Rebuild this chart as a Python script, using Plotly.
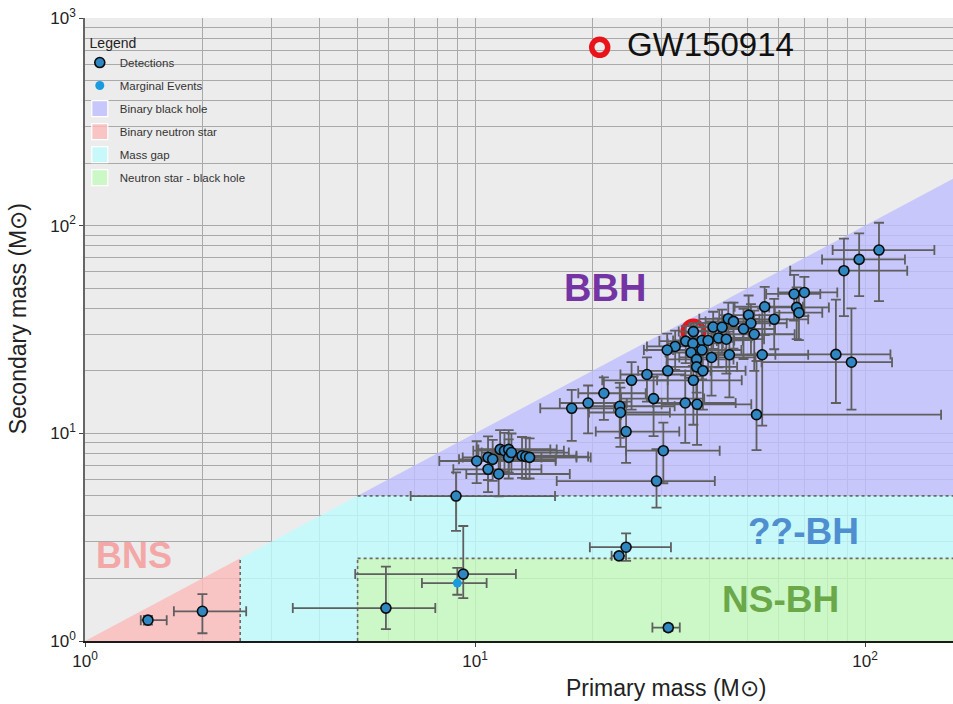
import plotly.graph_objects as go

# ---------------- data (solar masses) ----------------
primary_mass = [108.6, 96.6, 88.3, 65.8, 69.9, 66.8, 67.7, 58.5, 55.3, 84.2, 92.3, 54.5, 52.7,
                50.3, 51.0, 52.0, 44.6, 46.0, 48.8, 40.8, 43.0, 42.1, 44.1, 36.3, 34.7, 38.2,
                39.6, 36.2, 38.2, 35.8, 37.0, 37.0, 38.4, 40.4, 44.9, 32.6, 31.1, 31.2, 27.6,
                25.2, 36.3, 21.4, 19.5, 17.7, 23.5, 23.6, 28.7, 34.6, 37.1, 24.4, 30.4, 29.2,
                8.94, 10.1, 10.8, 11.1, 10.8, 11.5, 11.6, 11.9, 12.2, 12.2, 12.4, 13.2, 13.5, 13.8,
                9.33, 5.91, 2.0, 1.45, 24.4, 23.4, 31.3]
secondary_mass = [76.3, 68.8, 60.7, 46.9, 47.7, 40.4, 38.1, 35.4, 40.7, 24.0, 22.0, 23.9, 12.3,
                  37.1, 33.9, 30.0, 35.6, 34.6, 31.8, 32.5, 32.4, 28.8, 28.4, 30.9, 27.8, 28.0,
                  28.0, 27.1, 25.2, 24.5, 22.7, 20.9, 20.0, 23.2, 23.9, 26.2, 25.2, 20.0, 19.2,
                  18.0, 18.0, 15.6, 14.0, 13.2, 13.5, 12.6, 14.7, 14.0, 13.8, 10.2, 8.25, 5.89,
                  4.99, 7.36, 7.66, 7.5, 6.71, 6.37, 8.37, 8.25, 8.37, 7.66, 8.08, 7.80, 7.73, 7.66,
                  2.10, 1.44, 1.39, 1.26, 2.83, 2.57, 1.16]
m1_err_plus = [42, 30, 40, 11, 15, 14, 10, 13, 14, 32, 25, 17, 104,
               10, 12, 14, 9, 11, 10, 8, 9, 9, 11, 5, 7, 8,
               9, 7, 10, 8, 9, 10, 11, 12, 14, 6, 6, 9, 7,
               6, 12, 6, 5, 5, 9, 8, 10, 12, 14, 9, 12, 12,
               7.1, 6, 4, 5, 4, 6, 4, 5, 4, 6, 5, 5, 6, 6,
               3.4, 2.0, 0.59, 0.17, 7.4, 1.0, 2.2]
m1_err_minus = [26, 19, 24, 10, 10, 10, 9, 9, 9, 30, 38, 14, 29,
                8, 9, 9, 7, 7, 8, 5, 6, 6, 7, 3, 5, 6,
                6, 5, 6, 5, 6, 6, 7, 7, 8, 5, 4, 5, 4,
                4, 7, 3, 3, 3, 4, 4, 5, 6, 7, 4, 6, 13,
                2.1, 2, 1.5, 2, 2, 2, 1.5, 2, 2, 2, 2, 2, 2.5, 2.5,
                4.4, 2.5, 0.31, 0.06, 4.7, 1.0, 2.8]
m2_err_plus = [27, 23, 26, 11, 9, 10, 10, 9, 10, 20, 18, 16, 10,
               9, 8, 9, 7, 8, 8, 6, 7, 7, 8, 3, 5, 6,
               6, 6, 6, 6, 6, 6, 6, 7, 7, 5, 5, 5, 4,
               4, 6, 3, 3, 3, 4, 4, 4, 5, 5, 4, 3, 2.5,
               1.5, 1.8, 2, 1.8, 1.6, 1.5, 2, 1.8, 2, 1.7, 1.9, 1.8, 1.8, 1.8,
               1.48, 0.84, 0.29, 0.06, 0.47, 0.08, 0.04]
m2_err_minus = [33, 23, 24, 12, 11, 12, 10, 10, 11, 10, 9, 13, 4,
                9, 10, 10, 8, 9, 9, 7, 8, 8, 9, 4, 6, 7,
                8, 6, 7, 6, 7, 7, 7, 8, 9, 6, 5, 6, 5,
                5, 7, 4, 4, 4, 4, 4, 5, 5, 5, 3, 2.5, 1.5,
                1.6, 1.6, 1.7, 1.6, 1.5, 1.4, 1.8, 1.7, 1.9, 1.6, 1.7, 1.7, 1.7, 1.6,
                0.49, 0.30, 0.30, 0.06, 0.40, 0.08, 0.04]

marginal_m1 = [9.01]
marginal_m2 = [1.90]
marginal_m1_err_plus = [1.7]
marginal_m1_err_minus = [1.7]
marginal_m2_err_plus = [0.35]
marginal_m2_err_minus = [0.23]

gw150914_m1 = [36.3]
gw150914_m2 = [30.9]

NS_MAX = 2.5      # max neutron-star mass
GAP_MAX = 5.0     # upper edge of the mass gap
M_MIN = 1.0
M_FAR = 316.0     # beyond the visible range

x_ticks = [1, 10, 100]
x_ticktext = ["10<sup>0</sup>", "10<sup>1</sup>", "10<sup>2</sup>"]
y_ticks = [1, 10, 100, 1000]
y_ticktext = ["10<sup>0</sup>", "10<sup>1</sup>", "10<sup>2</sup>", "10<sup>3</sup>"]
minor_vals = [d * 10 ** e for e in range(0, 3) for d in range(2, 10)]

FONT = "Liberation Sans, Arial, Helvetica, sans-serif"

BBH_C = "rgba(190,190,255,0.8)"
BNS_C = "rgba(252,186,186,0.8)"
GAP_C = "rgba(190,253,255,0.8)"
NSBH_C = "rgba(196,250,190,0.8)"

fig = go.Figure()

# ---------------- regions ----------------
fig.add_trace(go.Scatter(
    x=[GAP_MAX, M_FAR, M_FAR, GAP_MAX], y=[GAP_MAX, M_FAR, GAP_MAX, GAP_MAX],
    fill="toself", fillcolor=BBH_C, mode="lines", line=dict(width=0),
    showlegend=False, hoverinfo="skip"))
fig.add_trace(go.Scatter(
    x=[M_MIN, NS_MAX, NS_MAX, M_MIN], y=[M_MIN, NS_MAX, M_MIN, M_MIN],
    fill="toself", fillcolor=BNS_C, mode="lines", line=dict(width=0),
    showlegend=False, hoverinfo="skip"))
fig.add_trace(go.Scatter(
    x=[NS_MAX, NS_MAX, GAP_MAX, M_FAR, M_FAR, GAP_MAX, GAP_MAX, NS_MAX],
    y=[M_MIN, NS_MAX, GAP_MAX, GAP_MAX, NS_MAX, NS_MAX, M_MIN, M_MIN],
    fill="toself", fillcolor=GAP_C, mode="lines", line=dict(width=0),
    showlegend=False, hoverinfo="skip"))
fig.add_trace(go.Scatter(
    x=[GAP_MAX, GAP_MAX, M_FAR, M_FAR, GAP_MAX], y=[M_MIN, NS_MAX, NS_MAX, M_MIN, M_MIN],
    fill="toself", fillcolor=NSBH_C, mode="lines", line=dict(width=0),
    showlegend=False, hoverinfo="skip"))

# dotted boundaries
fig.add_trace(go.Scatter(
    x=[GAP_MAX, M_FAR, None, GAP_MAX, M_FAR, None, GAP_MAX, GAP_MAX, None, NS_MAX, NS_MAX],
    y=[GAP_MAX, GAP_MAX, None, NS_MAX, NS_MAX, None, M_MIN, NS_MAX, None, M_MIN, NS_MAX],
    mode="lines", line=dict(color="#6a6a6a", width=1.6, dash="dot"),
    showlegend=False, hoverinfo="skip"))

# GW150914 highlight ring
fig.add_trace(go.Scatter(
    x=gw150914_m1, y=gw150914_m2, mode="markers",
    marker=dict(symbol="circle-open", size=21, color="#e8141a", line=dict(width=5, color="#e8141a")),
    showlegend=False, hoverinfo="skip"))

err_style = dict(color="#5f5f5f", thickness=1.8, width=5)

fig.add_trace(go.Scatter(
    x=marginal_m1, y=marginal_m2, mode="markers", name="Marginal Events",
    legendrank=2, legendgroup="g2",
    marker=dict(symbol="circle", size=9, color="#1a9be0", line=dict(width=0)),
    error_x=dict(type="data", array=marginal_m1_err_plus, arrayminus=marginal_m1_err_minus, **err_style),
    error_y=dict(type="data", array=marginal_m2_err_plus, arrayminus=marginal_m2_err_minus, **err_style)))

fig.add_trace(go.Scatter(
    x=primary_mass, y=secondary_mass, mode="markers", name="Detections",
    legendrank=1, legendgroup="g1",
    marker=dict(symbol="circle", size=10, color="#2f86c0", line=dict(width=1.6, color="#0b0b0b")),
    error_x=dict(type="data", array=m1_err_plus, arrayminus=m1_err_minus, **err_style),
    error_y=dict(type="data", array=m2_err_plus, arrayminus=m2_err_minus, **err_style)))

# legend keys for the regions (square swatches)
for rank, (nm, col) in enumerate([("Binary black hole", BBH_C), ("Binary neutron star", BNS_C),
                                  ("Mass gap", GAP_C), ("Neutron star - black hole", NSBH_C)], start=3):
    fig.add_trace(go.Scatter(
        x=[None], y=[None], mode="markers", name=nm, legendrank=rank, legendgroup=f"g{rank}",
        marker=dict(symbol="square", size=16, color=col, line=dict(color="white", width=1.2))))

# ---------------- axes ----------------
axis_common = dict(
    type="log", showgrid=True, gridcolor="#a9a9a9", gridwidth=1, zeroline=False,
    ticks="outside", ticklen=4, tickcolor="#444",
    tickfont=dict(family=FONT, size=17, color="#222"),
    minor=dict(tickvals=minor_vals + [d * 1000 for d in range(2, 10)], showgrid=True,
               gridcolor="#a9a9a9", gridwidth=1, ticks=""),
)
fig.update_xaxes(range=[0, 2.2256], tickvals=x_ticks, ticktext=x_ticktext,
                 showline=True, linecolor="#1a1a1a", linewidth=2, **axis_common)
fig.update_yaxes(range=[0, 3], tickvals=y_ticks, ticktext=y_ticktext,
                 showline=True, linecolor="#666", linewidth=1.5, **axis_common)

# ---------------- text ----------------
def label(text, x, y, size, color, xanchor="center", **kw):
    fig.add_annotation(text=text, x=x, y=y, xref="paper", yref="paper", showarrow=False,
                       xanchor=xanchor, yanchor="middle",
                       font=dict(family=FONT, size=size, color=color), **kw)

label("<b>BBH</b>", 0.599, 0.567, 38, "#7434a4")
label("<b>??-BH</b>", 0.828, 0.175, 37, "#4f8fd0")
label("<b>NS-BH</b>", 0.801, 0.066, 37, "#6aa84a")
label("<b>BNS</b>", 0.0565, 0.138, 36, "#f4a7a7")
label("GW150914", 0.622, 0.957, 33, "#111", xanchor="left")
label("Primary mass (M⊙)", 0.669, -0.0754, 23, "#222")
label("Secondary mass (M⊙)", -0.0772, 0.518, 23, "#222", textangle=-90)

fig.add_shape(type="circle", xref="paper", yref="paper", xsizemode="pixel", ysizemode="pixel",
              xanchor=0.593, yanchor=0.953, x0=-8, x1=8, y0=-8, y1=8,
              line=dict(color="#e8141a", width=5.5))

fig.update_layout(
    width=953, height=704,
    margin=dict(l=85, r=0, t=18, b=63),
    paper_bgcolor="white", plot_bgcolor="#ececec",
    font=dict(family=FONT, color="#333"),
    showlegend=True,
    legend=dict(x=-0.006, y=0.981, xanchor="left", yanchor="top",
                bgcolor="rgba(0,0,0,0)", tracegroupgap=4, itemwidth=30,
                font=dict(family=FONT, size=11.5, color="#333"),
                title=dict(text="\u00a0\u00a0Legend", font=dict(family=FONT, size=14, color="#222"))),
)

fig.write_html("out.html")
